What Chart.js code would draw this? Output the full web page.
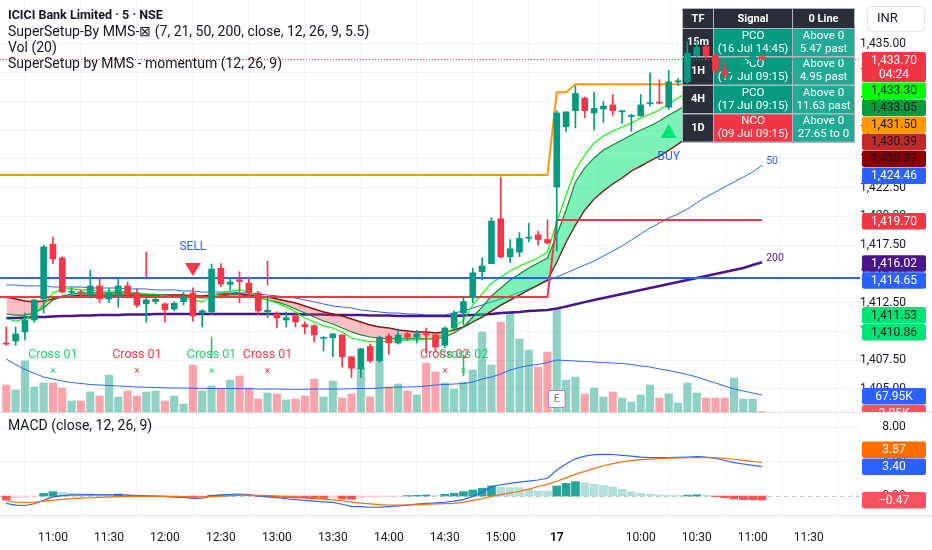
<!DOCTYPE html>
<html><head><meta charset="utf-8">
<script src="https://cdn.jsdelivr.net/npm/chart.js@4.4.1/dist/chart.umd.min.js"></script>
<style>html,body{margin:0;padding:0;background:#fff;overflow:hidden}canvas{display:block}</style>
</head><body>
<canvas id="c" width="932" height="550"></canvas>
<script>
// ---------------- DATA ----------------
const tickBars   = [5,11,17,23,29,35,41,47,53,59,68,74,80,86];
const tickLabels = ['11:00','11:30','12:00','12:30','13:00','13:30','14:00','14:30','15:00','17','10:00','10:30','11:00','11:30'];
const priceTicks = [1405,1407.5,1410,1412.5,1415,1417.5,1420,1422.5,1425,1427.5,1430,1432.5,1435];
const macdTicks  = [0,4,8];

const opens = [1409.0,1409.17,1409.96,1411.0,1412.83,1417.6,1416.4,1413.4,1413.45,1413.26,
1413.96,1412.83,1413.2,1413.96,1413.35,1412.4,1412.6,1412.4,1411.95,1412.6,
1413.35,1411.6,1411.7,1415.5,1414.1,1414.5,1414.2,1413.35,1411.7,1411.5,
1411.0,1411.35,1410.6,1410.5,1409.4,1409.45,1409.7,1407.8,1406.75,1408.7,
1407.45,1409.6,1409.0,1409.8,1409.5,1409.8,1409.7,1408.8,1410.3,1411.6,
1413.0,1415.2,1415.9,1419.8,1416.5,1416.9,1418.1,1418.4,1418.0,1422.57,
1427.8,1429.2,1430.3,1429.0,1429.35,1429.7,1429.1,1428.7,1428.75,1429.8,
1429.95,1429.5,1431.7,1431.7,1434.0,1434.75,1434.0,1432.7,1432.3,1433.2,
1433.5,1433.9];
const highs = [1410.4,1410.4,1411.6,1412.8,1417.5,1418.2,1416.5,1413.8,1413.6,1415.35,
1414.65,1413.7,1414.65,1414.3,1413.7,1412.9,1413.0,1412.5,1412.6,1413.4,
1413.8,1411.9,1415.87,1415.9,1414.7,1415.2,1414.7,1413.5,1412.95,1411.7,
1411.7,1411.5,1410.83,1410.6,1409.55,1409.8,1409.7,1407.8,1408.5,1408.9,
1409.6,1409.8,1410.2,1410.1,1410.1,1410.3,1409.7,1410.4,1411.8,1413.0,
1415.5,1416.4,1419.9,1423.4,1418.0,1418.6,1419.4,1418.7,1419.7,1429.2,
1429.1,1431.35,1430.4,1430.8,1430.0,1430.6,1429.25,1428.9,1430.6,1432.5,
1431.9,1432.7,1432.0,1435.2,1435.3,1435.0,1434.2,1433.4,1433.4,1433.8,
1434.1,1434.0];
const lows = [1408.8,1408.8,1409.26,1410.8,1411.6,1415.9,1413.35,1413.2,1413.1,1412.9,
1412.5,1412.5,1412.1,1412.9,1412.1,1410.8,1412.4,1410.8,1411.8,1412.3,
1410.9,1410.4,1411.5,1413.9,1413.6,1412.5,1413.0,1411.5,1411.2,1410.3,
1410.4,1410.4,1409.8,1409.1,1408.3,1407.8,1406.9,1406.0,1406.0,1407.3,
1407.3,1408.0,1408.9,1409.2,1409.0,1408.1,1408.2,1408.6,1410.1,1410.55,
1412.5,1414.5,1415.9,1416.4,1416.0,1416.5,1417.8,1417.5,1417.6,1417.0,
1427.4,1427.7,1428.6,1427.5,1428.2,1428.8,1428.1,1427.4,1428.7,1429.6,
1429.8,1429.3,1431.4,1431.6,1433.9,1433.7,1432.3,1432.0,1432.1,1432.9,
1433.3,1433.6];
const closes = [1408.9,1409.78,1411.0,1412.74,1417.35,1416.3,1413.43,1413.5,1413.35,1413.96,
1412.83,1413.35,1413.96,1413.2,1412.3,1412.74,1412.8,1411.9,1412.45,1413.0,
1411.35,1411.8,1415.43,1414.13,1414.3,1414.35,1413.35,1411.8,1411.85,1411.17,
1411.2,1410.83,1410.4,1409.7,1409.5,1409.8,1407.8,1406.8,1408.5,1407.45,
1409.5,1409.0,1409.7,1409.5,1409.8,1409.7,1408.65,1410.3,1411.6,1412.6,
1415.1,1415.7,1419.6,1416.5,1417.2,1418.1,1418.2,1418.0,1417.7,1429.0,
1429.1,1430.7,1429.2,1429.4,1429.6,1429.2,1429.2,1428.8,1429.7,1429.9,
1429.85,1431.7,1431.8,1434.2,1434.7,1434.0,1432.7,1432.3,1433.2,1433.5,
1433.9,1433.7];
// volume in thousands
const volumes = [108,88,204,100,116,116,96,44,44,80,
64,148,60,84,64,80,84,44,64,32,
188,84,104,92,128,144,96,52,76,72,
48,52,64,132,60,124,56,72,176,60,
268,100,112,84,68,196,160,116,92,120,
168,320,188,360,396,292,248,180,240,412,
128,140,72,96,60,80,56,40,68,108,
56,72,36,116,76,56,56,56,136,52,
52,2.05];
const volMA = [212,190,170,155,140,132,124,118,114,110,
108,106,104,102,100,99,98,97,96,96,
95,95,94,94,94,93,93,92,92,92,
91,91,91,92,92,92,92,93,94,94,
96,98,100,100,101,104,108,110,112,114,
120,132,140,152,168,178,186,190,198,208,
206,204,202,200,198,196,194,190,184,180,
172,166,158,150,140,128,116,104,92,84,
76,67.95];
const ema7 = [1411.09,1410.91,1411.09,1411.52,1412.30,1413.35,1413.70,1413.70,1413.61,1413.61,
1413.52,1413.52,1413.52,1413.43,1413.35,1413.26,1413.26,1413.09,1413.0,1412.91,
1412.74,1412.57,1413.09,1413.35,1413.52,1413.61,1413.43,1413.0,1412.74,1412.48,
1412.13,1411.70,1411.17,1410.83,1410.48,1410.30,1409.96,1409.43,1409.26,1409.09,
1409.17,1409.09,1409.17,1409.26,1409.26,1409.35,1409.43,1409.78,1410.30,1411.0,
1412.30,1413.26,1414.22,1414.74,1415.26,1415.70,1416.04,1416.39,1416.91,1419.52,
1421.87,1424.04,1425.35,1426.39,1427.0,1427.43,1427.78,1428.13,1428.57,1428.91,
1429.26,1429.78,1430.30,1430.83,1431.52,1432.04,1432.39,1432.65,1432.83,1433.0,
1433.09,1433.30];
const ema21 = [1411.52,1411.43,1411.43,1411.61,1412.04,1412.74,1413.09,1413.26,1413.35,1413.35,
1413.35,1413.35,1413.35,1413.35,1413.26,1413.26,1413.17,1413.17,1413.09,1413.09,
1413.0,1412.91,1413.0,1413.09,1413.17,1413.17,1413.09,1412.91,1412.74,1412.57,
1412.30,1411.96,1411.61,1411.26,1410.91,1410.65,1410.30,1409.96,1409.70,1409.52,
1409.43,1409.35,1409.35,1409.35,1409.35,1409.35,1409.35,1409.52,1409.87,1410.39,
1411.26,1412.13,1413.09,1413.78,1414.48,1415.0,1415.52,1415.96,1416.39,1418.39,
1420.57,1423.0,1424.22,1425.09,1425.78,1426.22,1426.65,1427.09,1427.52,1427.87,
1428.30,1428.83,1429.26,1429.78,1430.48,1431.09,1431.61,1432.04,1432.39,1432.65,
1432.83,1433.05];
const emaSlow = [1413.0,1412.83,1412.65,1412.57,1412.65,1412.83,1413.0,1413.09,1413.17,1413.17,
1413.17,1413.17,1413.17,1413.17,1413.17,1413.17,1413.17,1413.17,1413.17,1413.17,
1413.09,1413.09,1413.17,1413.26,1413.26,1413.26,1413.17,1413.09,1413.0,1412.83,
1412.65,1412.48,1412.22,1411.96,1411.70,1411.52,1411.35,1411.09,1410.83,1410.57,
1410.39,1410.30,1410.13,1410.04,1409.96,1409.96,1409.87,1409.96,1410.13,1410.39,
1410.83,1411.26,1411.78,1412.30,1412.74,1413.17,1413.61,1414.04,1414.48,1416.04,
1417.78,1419.26,1420.57,1421.52,1422.22,1422.83,1423.35,1423.96,1424.39,1424.83,
1425.26,1425.78,1426.30,1426.91,1427.87,1428.57,1429.09,1429.52,1429.78,1430.04,
1430.22,1430.39];
const ema50 = [1414.04,1414.04,1413.96,1413.96,1413.96,1413.87,1413.87,1413.87,1413.87,1413.78,
1413.78,1413.78,1413.78,1413.70,1413.70,1413.70,1413.61,1413.61,1413.61,1413.52,
1413.52,1413.43,1413.43,1413.43,1413.43,1413.35,1413.35,1413.26,1413.17,1413.09,
1413.0,1412.91,1412.74,1412.57,1412.39,1412.22,1412.13,1412.04,1411.87,1411.78,
1411.70,1411.61,1411.61,1411.52,1411.52,1411.43,1411.43,1411.43,1411.61,1411.78,
1412.04,1412.30,1412.57,1412.83,1413.09,1413.43,1413.70,1414.04,1414.39,1414.74,
1415.09,1415.43,1415.78,1416.13,1416.57,1417.0,1417.43,1417.96,1418.48,1419.0,
1419.43,1419.87,1420.22,1420.65,1421.17,1421.70,1422.13,1422.57,1423.0,1423.43,
1423.87,1424.46];
const ema200 = [1411.17,1411.17,1411.22,1411.26,1411.26,1411.30,1411.35,1411.35,1411.39,1411.39,
1411.43,1411.43,1411.43,1411.48,1411.48,1411.48,1411.52,1411.52,1411.52,1411.52,
1411.52,1411.52,1411.52,1411.52,1411.52,1411.52,1411.52,1411.52,1411.52,1411.52,
1411.52,1411.52,1411.48,1411.48,1411.48,1411.43,1411.43,1411.43,1411.43,1411.39,
1411.39,1411.39,1411.35,1411.35,1411.35,1411.35,1411.35,1411.35,1411.35,1411.39,
1411.43,1411.48,1411.52,1411.61,1411.65,1411.70,1411.78,1411.83,1411.87,1412.0,
1412.18,1412.37,1412.55,1412.73,1412.91,1413.09,1413.26,1413.43,1413.61,1413.78,
1413.96,1414.13,1414.30,1414.48,1414.65,1414.83,1415.0,1415.17,1415.35,1415.52,
1415.78,1416.02];
// step levels (bar from, bar to, value); they continue from the bar before the window
const orangeLevels = [{from:-1,to:58,value:1423.6},{from:59,to:60,value:1430.8},{from:61,to:81,value:1431.5}];
const redLevels    = [{from:-1,to:58,value:1413.0},{from:59,to:81,value:1419.7}];
const blueLevel    = 1414.65;
// MACD pane
const macd = [-0.85,-1.05,-1.1,-0.9,-0.5,-0.1,0.05,0.12,0.14,0.15,
0.13,0.13,0.15,0.1,0.06,0.03,0.0,-0.05,-0.12,-0.15,
-0.27,-0.25,0.02,0.12,0.2,0.23,0.15,0.0,-0.1,-0.2,
-0.32,-0.42,-0.52,-0.6,-0.68,-0.73,-0.95,-1.2,-1.22,-1.3,
-1.28,-1.22,-1.15,-1.05,-0.95,-0.85,-0.8,-0.72,-0.6,-0.42,
-0.05,0.45,1.08,1.3,1.45,1.6,1.73,1.85,2.05,3.0,
3.7,4.3,4.6,4.78,4.82,4.8,4.7,4.6,4.5,4.45,
4.43,4.45,4.47,4.5,4.55,4.5,4.36,4.1,3.85,3.7,
3.55,3.40];
const signal = [-0.58,-0.7,-0.73,-0.7,-0.6,-0.5,-0.4,-0.3,-0.25,-0.2,
-0.15,-0.1,-0.08,-0.06,-0.05,-0.05,-0.05,-0.06,-0.07,-0.08,
-0.1,-0.1,-0.07,-0.03,0.03,0.08,0.1,0.08,0.05,0.0,
-0.07,-0.15,-0.22,-0.3,-0.37,-0.45,-0.55,-0.7,-0.82,-0.92,
-1.0,-1.04,-1.05,-1.04,-1.0,-0.96,-0.9,-0.88,-0.85,-0.7,
-0.5,-0.3,-0.05,0.15,0.35,0.55,0.8,1.1,1.35,1.7,
2.1,2.5,2.85,3.2,3.5,3.75,3.95,4.1,4.2,4.27,
4.33,4.37,4.4,4.42,4.43,4.43,4.42,4.35,4.25,4.12,
4.0,3.87];
const hist = [-0.45,-0.2,-0.15,-0.03,0.3,0.5,0.4,0.32,0.28,0.27,
0.2,0.18,0.23,0.12,0.08,0.05,0.03,-0.05,-0.08,-0.06,
-0.15,-0.1,0.1,0.12,0.15,0.1,0.05,-0.05,-0.1,-0.15,
-0.2,-0.22,-0.25,-0.27,-0.3,-0.2,-0.35,-0.38,-0.2,-0.15,
-0.12,-0.08,-0.04,0.05,0.08,0.12,0.04,0.19,0.3,0.5,
0.69,0.89,1.16,1.0,0.98,0.96,0.8,0.58,0.55,1.16,
1.46,1.66,1.54,1.35,1.23,1.04,0.77,0.5,0.31,0.19,
0.12,0.08,0.05,0.1,0.15,0.08,-0.08,-0.2,-0.35,-0.42,
-0.44,-0.47];
// signals / markers
const sellSignals = [{bar:20, price:1415.43, textPrice:1417.35}];
const buySignals  = [{bar:71, price:1427.43, textPrice:1425.17}];
const crossMarks  = [{bar:5,text:'Cross 01',bull:true},{bar:14,text:'Cross 01',bull:false},{bar:22,text:'Cross 01',bull:true},
                     {bar:28,text:'Cross 01',bull:false},{bar:47,text:'Cross 02',bull:false},{bar:49,text:'Cross 02',bull:true}];
const crossTextPrice = 1407.96, crossMarkPrice = 1406.48;
const spikes = [{bar:15,lo:1414.74,hi:1416.9,bull:false},{bar:28,lo:1414.04,hi:1416.13,bull:false},
                {bar:22,lo:1407.7,hi:1409.52,bull:true},{bar:49,lo:1406.13,hi:1407.9,bull:true}];
const earningsBar = 59;
// right-axis value labels
const priceLabels = [
  {v:1433.70,text:'1,433.70',sub:'04:24',bg:'#f23645',fg:'#ffffff'},
  {v:1433.30,text:'1,433.30',bg:'#00ff00',fg:'#131722'},
  {v:1433.05,text:'1,433.05',bg:'#0c9a3e',fg:'#131722'},
  {v:1431.50,text:'1,431.50',bg:'#ff9800',fg:'#131722'},
  {v:1430.39,text:'1,430.39',bg:'#c62828',fg:'#131722'},
  {v:1430.39,text:'1,430.39',bg:'#8b0000',fg:'#131722'},
  {v:1424.46,text:'1,424.46',bg:'#2962ff',fg:'#ffffff'},
  {v:1419.70,text:'1,419.70',bg:'#f23645',fg:'#ffffff'},
  {v:1416.02,text:'1,416.02',bg:'#4a148c',fg:'#ffffff'},
  {v:1414.65,text:'1,414.65',bg:'#2962ff',fg:'#ffffff'},
  {v:1411.53,text:'1,411.53',bg:'#00e676',fg:'#131722'},
  {v:1410.86,text:'1,410.86',bg:'#00e676',fg:'#131722'}];
const volLabels = [{v:67.95,text:'67.95K',bg:'#2962ff',fg:'#ffffff'},{v:2.05,text:'2.05K',bg:'#f7525f',fg:'#ffffff'}];
const macdLabels = [{v:3.40,text:'3.40',bg:'#2962ff',fg:'#ffffff'},{v:-0.47,text:'\u22120.47',bg:'#f7525f',fg:'#ffffff'},{v:3.87,text:'3.87',bg:'#ff6d00',fg:'#ffffff'}];
const tableRows = [
  {tf:'15m',sig:'PCO',when:'(16 Jul 14:45)',z1:'Above 0',z2:'5.47 past',bull:true},
  {tf:'1H', sig:'PCO',when:'(17 Jul 09:15)',z1:'Above 0',z2:'4.95 past',bull:true},
  {tf:'4H', sig:'PCO',when:'(17 Jul 09:15)',z1:'Above 0',z2:'11.63 past',bull:true},
  {tf:'1D', sig:'NCO',when:'(09 Jul 09:15)',z1:'Above 0',z2:'27.65 to 0',bull:false}];
const headerLines = ['ICICI Bank Limited \u00b7 5 \u00b7 NSE','SuperSetup-By MMS-\u22a0 (7, 21, 50, 200, close, 12, 26, 9, 5.5)','Vol (20)','SuperSetup by MMS - momentum (12, 26, 9)'];

// ---------------- LAYOUT / SCALE RANGES ----------------
const XMIN = -0.675, XMAX = 91.5;
const PMIN = 1394.04, PMAX = 1438.826;   // price axis over full plot height
const MMIN = -2.197, MMAX = 57.34;       // macd axis over full plot height
const VMIN = -412, VMAX = 1648;          // volume (K) over full plot height
const FONT = 'Roboto, "Noto Sans", sans-serif';
const UP='#089981', DN='#f23645';

const idx = opens.map((_,i)=>i);
const isUp = idx.map(i=>closes[i]>=opens[i]);
const pts = arr => arr.map((v,i)=>({x:i,y:v}));
function levelPts(segs){const p=[];segs.forEach(s=>{p.push({x:s.from,y:s.value});if(s.to!==s.from)p.push({x:s.to,y:s.value});});return p;}
const histColors = hist.map((h,i)=>{const p=i>0?hist[i-1]:h; if(h>=0) return h>=p?'#26a69a':'#b2dfdb'; return h>p?'#ffcdd2':'#ff5252';});
const fmtPrice = v => v.toLocaleString('en-US',{minimumFractionDigits:2,maximumFractionDigits:2});

const lineDs = (data, color, width, axis, order, extra) => Object.assign({type:'line', data, yAxisID:axis, borderColor:color, borderWidth:width, pointRadius:0, tension:0, fill:false, order}, extra||{});

const datasets = [
  {type:'bar', data: idx.map(i=>({x:i,y:volumes[i]})), yAxisID:'yv', backgroundColor: idx.map(i=>isUp[i]?'rgba(8,153,129,0.45)':'rgba(242,54,69,0.45)'), barThickness:7.5, grouped:false, order:100},
  lineDs(pts(volMA), '#2962ff', 1, 'yv', 99),
  {type:'bar', data: pts(hist), yAxisID:'m', backgroundColor: histColors, barThickness:8, grouped:false, order:98},
  lineDs(pts(macd), '#2962ff', 1.2, 'm', 97),
  lineDs(pts(signal), '#ff6d00', 1.2, 'm', 96),
  lineDs(pts(ema50), '#2962ff', 1, 'y', 90),
  lineDs(pts(ema200), '#4a148c', 2.5, 'y', 89),
  lineDs(pts(emaSlow), '#8b0000', 1.5, 'y', 88),
  lineDs(pts(ema21), '#0a8f36', 1.2, 'y', 87, {fill:{target:7, above:'rgba(0,230,118,0.5)', below:'rgba(242,54,69,0.32)'}}),
  lineDs(pts(ema7), '#00ff00', 1.2, 'y', 86),
  lineDs([{x:XMIN,y:blueLevel},{x:XMAX,y:blueLevel}], '#2962ff', 2, 'y', 80),
  lineDs(levelPts(redLevels), '#f23645', 2, 'y', 79),
  lineDs(levelPts(orangeLevels), '#ff9800', 2, 'y', 78),
  {type:'bar', data: spikes.map(s=>({x:s.bar,y:[s.lo,s.hi]})), yAxisID:'y', backgroundColor: spikes.map(s=>s.bull?'#2ebd6b':'#f23645'), barThickness:1, grouped:false, order:20},
  {type:'bar', data: idx.map(i=>({x:i,y:[lows[i],highs[i]]})), yAxisID:'y', backgroundColor: idx.map(i=>isUp[i]?UP:DN), barThickness:1, grouped:false, order:10},
  {type:'bar', data: idx.map(i=>({x:i,y:[opens[i],closes[i]]})), yAxisID:'y', backgroundColor: idx.map(i=>isUp[i]?UP:DN), barThickness:6, minBarLength:1, grouped:false, order:5},
];
const WICK_INDEX = 14;

function rr(ctx,x,y,w,h,r){ctx.beginPath();ctx.moveTo(x+r,y);ctx.lineTo(x+w-r,y);ctx.quadraticCurveTo(x+w,y,x+w,y+r);ctx.lineTo(x+w,y+h-r);ctx.quadraticCurveTo(x+w,y+h,x+w-r,y+h);ctx.lineTo(x+r,y+h);ctx.quadraticCurveTo(x,y+h,x,y+h-r);ctx.lineTo(x,y+r);ctx.quadraticCurveTo(x,y,x+r,y);ctx.closePath();}

function drawTable(chart){
  const ctx=chart.ctx; ctx.save();
  const x0=683, cols=[[x0,30],[x0+31,78],[x0+110,61]];
  const hdrY=9, hdrH=19, rowY0=29, rowH=27, gap=1.5;
  const totalH = rowY0 + tableRows.length*(rowH+gap) - hdrY;
  ctx.fillStyle='#b2b5be'; ctx.fillRect(x0-1,hdrY-1,cols[2][0]+cols[2][1]-x0+2,totalH+1);
  ctx.textAlign='center'; ctx.textBaseline='middle';
  ['TF','Signal','0 Line'].forEach((t,c)=>{ctx.fillStyle='#2a2e39';ctx.fillRect(cols[c][0],hdrY,cols[c][1],hdrH);ctx.fillStyle='#ffffff';ctx.font='bold 11px '+FONT;ctx.fillText(t,cols[c][0]+cols[c][1]/2,hdrY+hdrH/2+0.5);});
  tableRows.forEach((r,k)=>{
    const y=rowY0+k*(rowH+gap);
    ctx.fillStyle='#2a2e39'; ctx.fillRect(cols[0][0],y,cols[0][1],rowH);
    ctx.fillStyle=r.bull?'#089981':'#f23645'; ctx.fillRect(cols[1][0],y,cols[1][1],rowH);
    ctx.fillStyle='#22ab94'; ctx.fillRect(cols[2][0],y,cols[2][1],rowH);
    ctx.fillStyle='#ffffff'; ctx.font='bold 11px '+FONT;
    ctx.fillText(r.tf,cols[0][0]+cols[0][1]/2,y+rowH/2);
    ctx.font='11.5px '+FONT;
    ctx.fillText(r.sig,cols[1][0]+cols[1][1]/2,y+rowH/2-6.5);
    ctx.fillText(r.when,cols[1][0]+cols[1][1]/2,y+rowH/2+6.5);
    ctx.fillText(r.z1,cols[2][0]+cols[2][1]/2,y+rowH/2-6.5);
    ctx.fillText(r.z2,cols[2][0]+cols[2][1]/2,y+rowH/2+6.5);
  });
  ctx.restore();
}

function placeLabels(items){
  const placed=[];
  items.forEach(it=>{
    let top=it.y-it.anchor;
    for(let g=0;g<40;g++){
      const hit=placed.find(p=>top<p.top+p.h+0.5 && top+it.h+0.5>p.top);
      if(!hit)break;
      top=(it.y<hit.y)?hit.top-it.h-0.5:hit.top+hit.h+0.5;
    }
    it.top=top; placed.push(it);
  });
}
function drawLabels(ctx,items,clipTop,clipBottom){
  ctx.save(); ctx.beginPath(); ctx.rect(860,clipTop,72,clipBottom-clipTop); ctx.clip();
  items.forEach(it=>{
    ctx.fillStyle=it.bg; rr(ctx,862,it.top,64,it.h,2); ctx.fill();
    ctx.fillStyle=it.fg; ctx.font='12px '+FONT; ctx.textAlign='center'; ctx.textBaseline='middle';
    ctx.fillText(it.text,894,it.top+8.7);
    if(it.sub) ctx.fillText(it.sub,894,it.top+23);
  });
  ctx.restore();
}

const overlay = {
  id:'overlay',
  beforeDraw(chart){ chart.$tableDone=false; },
  beforeDatasetsDraw(chart){
    const {ctx, chartArea:a, scales:{m,yv}} = chart;
    ctx.save(); ctx.lineWidth=1;
    ctx.strokeStyle='#f0f3fa';
    macdTicks.filter(v=>v!==0).forEach(v=>{const y=Math.round(m.getPixelForValue(v))+0.5;ctx.beginPath();ctx.moveTo(a.left,y);ctx.lineTo(a.right,y);ctx.stroke();});
    const zy=Math.round(m.getPixelForValue(0))+0.5;
    ctx.strokeStyle='#c3c6ce'; ctx.setLineDash([4,4]); ctx.beginPath(); ctx.moveTo(a.left,zy); ctx.lineTo(a.right,zy); ctx.stroke(); ctx.setLineDash([]);
    const sep=Math.round(yv.getPixelForValue(0))+0.5;
    ctx.strokeStyle='#e0e3eb'; ctx.beginPath(); ctx.moveTo(0,sep); ctx.lineTo(932,sep); ctx.stroke();
    ctx.beginPath(); ctx.moveTo(0,a.bottom+0.5); ctx.lineTo(932,a.bottom+0.5); ctx.stroke();
    ctx.restore();
  },
  beforeDatasetDraw(chart,args){
    if(args.index===WICK_INDEX && !chart.$tableDone){ drawTable(chart); chart.$tableDone=true; }
  },
  afterDatasetsDraw(chart){
    const {ctx, chartArea:a, scales:{x,y,yv}} = chart;
    ctx.save();
    const ly=Math.round(y.getPixelForValue(closes[closes.length-1]))+0.5;
    ctx.strokeStyle='#f23645'; ctx.lineWidth=1; ctx.setLineDash([1,2]);
    ctx.beginPath(); ctx.moveTo(a.left,ly); ctx.lineTo(a.right,ly); ctx.stroke(); ctx.setLineDash([]);
    ctx.textAlign='center'; ctx.textBaseline='middle';
    sellSignals.forEach(s=>{const px=x.getPixelForValue(s.bar),py=y.getPixelForValue(s.price);
      ctx.fillStyle='#f23645'; ctx.beginPath(); ctx.moveTo(px-8,py-6); ctx.lineTo(px+8,py-6); ctx.lineTo(px,py+7); ctx.closePath(); ctx.fill();
      ctx.fillStyle='#2962ff'; ctx.font='12px '+FONT; ctx.fillText('SELL',px,y.getPixelForValue(s.textPrice));});
    buySignals.forEach(s=>{const px=x.getPixelForValue(s.bar),py=y.getPixelForValue(s.price);
      ctx.fillStyle='#00e676'; ctx.beginPath(); ctx.moveTo(px-8,py+7); ctx.lineTo(px+8,py+7); ctx.lineTo(px,py-7); ctx.closePath(); ctx.fill();
      ctx.fillStyle='#2962ff'; ctx.font='12px '+FONT; ctx.fillText('BUY',px,y.getPixelForValue(s.textPrice));});
    crossMarks.forEach(c=>{const px=x.getPixelForValue(c.bar); const col=c.bull?'#1fd16b':'#f23645';
      ctx.fillStyle=col; ctx.font='12.5px '+FONT; ctx.fillText(c.text,px,y.getPixelForValue(crossTextPrice));
      ctx.font='10px '+FONT; ctx.fillText('\u00d7',px,y.getPixelForValue(crossMarkPrice));});
    const last=ema50.length-1, ex=x.getPixelForValue(last)+10;
    ctx.font='10.5px '+FONT; ctx.fillStyle='#2962ff'; ctx.fillText('50',ex,y.getPixelForValue(ema50[last])-4);
    ctx.fillStyle='#4a148c'; ctx.fillText('200',ex+3,y.getPixelForValue(ema200[last])-4);
    const exx=x.getPixelForValue(earningsBar), eb=yv.getPixelForValue(0);
    ctx.fillStyle='#ffffff'; ctx.strokeStyle='#c77db3'; ctx.lineWidth=1.2; rr(ctx,exx-8.5,eb-21.5,17,17,2); ctx.fill(); ctx.stroke();
    ctx.fillStyle='#787b86'; ctx.font='11px '+FONT; ctx.fillText('E',exx,eb-12.5);
    ctx.restore();
  },
  afterDraw(chart){
    const {ctx, chartArea:a, scales:{y,m,yv}} = chart;
    ctx.save();
    ctx.textAlign='left'; ctx.textBaseline='middle'; ctx.fillStyle='#131722';
    headerLines.forEach((t,k)=>{ctx.font=(k===0?'bold 12.5px ':'14px ')+FONT; ctx.fillText(t,8,16+k*16);});
    ctx.font='14px '+FONT; ctx.fillText('MACD (close, 12, 26, 9)',8,m.getPixelForValue(8));
    ctx.strokeStyle='#e0e3eb'; ctx.lineWidth=1; ctx.fillStyle='#ffffff'; rr(ctx,867.5,6.5,57,25,4); ctx.fill(); ctx.stroke();
    ctx.fillStyle='#131722'; ctx.font='13px '+FONT; ctx.fillText('INR',877,19);
    ctx.textAlign='center'; ctx.font='12px '+FONT;
    macdTicks.forEach(v=>ctx.fillText(v.toFixed(2),894,m.getPixelForValue(v)));
    ctx.restore();
    const pItems=[];
    const first=priceLabels[0];
    pItems.push(Object.assign({},first,{y:y.getPixelForValue(first.v),h:30,anchor:7}));
    volLabels.forEach(l=>{pItems.push(Object.assign({},l,{y:yv.getPixelForValue(l.v),h:16.5,anchor:7}));});
    priceLabels.slice(1).forEach(l=>{pItems.push(Object.assign({},l,{y:y.getPixelForValue(l.v),h:16.5,anchor:7}));});
    placeLabels(pItems);
    drawLabels(ctx,pItems,a.top,yv.getPixelForValue(0));
    const mItems=macdLabels.map(l=>Object.assign({},l,{y:m.getPixelForValue(l.v),h:16.5,anchor:8}));
    placeLabels(mItems);
    drawLabels(ctx,mItems,yv.getPixelForValue(0),a.bottom);
  }
};

Chart.defaults.font.family = FONT;
Chart.defaults.color = '#131722';
new Chart(document.getElementById('c'), {
  type:'bar',
  data:{datasets},
  options:{
    responsive:false, animation:false, events:[],
    layout:{padding:0},
    plugins:{legend:{display:false}, tooltip:{enabled:false}, filler:{propagate:false}},
    scales:{
      x:{type:'linear', min:XMIN, max:XMAX, offset:false,
         grid:{color:'#f0f3fa', drawTicks:false}, border:{display:false},
         afterBuildTicks:s=>{s.ticks=tickBars.map(v=>({value:v}));},
         afterFit:s=>{s.height=35; s.paddingLeft=0; s.paddingRight=0;},
         ticks:{autoSkip:false, maxRotation:0, padding:16, color:'#131722',
                font:c=>({family:FONT, size:12, weight:(c.tick&&c.tick.value===59)?'bold':'normal'}),
                callback:(v,i)=>tickLabels[i]}},
      y:{type:'linear', position:'right', min:PMIN, max:PMAX,
         grid:{color:'#f0f3fa', drawTicks:false}, border:{display:false},
         afterBuildTicks:s=>{s.ticks=priceTicks.map(v=>({value:v}));},
         afterFit:s=>{s.width=72; s.paddingTop=0; s.paddingBottom=0;},
         ticks:{crossAlign:'center', padding:0, color:'#131722', font:{size:12}, callback:v=>fmtPrice(v)}},
      m:{type:'linear', position:'right', display:false, min:MMIN, max:MMAX},
      yv:{type:'linear', position:'right', display:false, min:VMIN, max:VMAX}
    }
  },
  plugins:[overlay]
});
</script>
</body></html>
